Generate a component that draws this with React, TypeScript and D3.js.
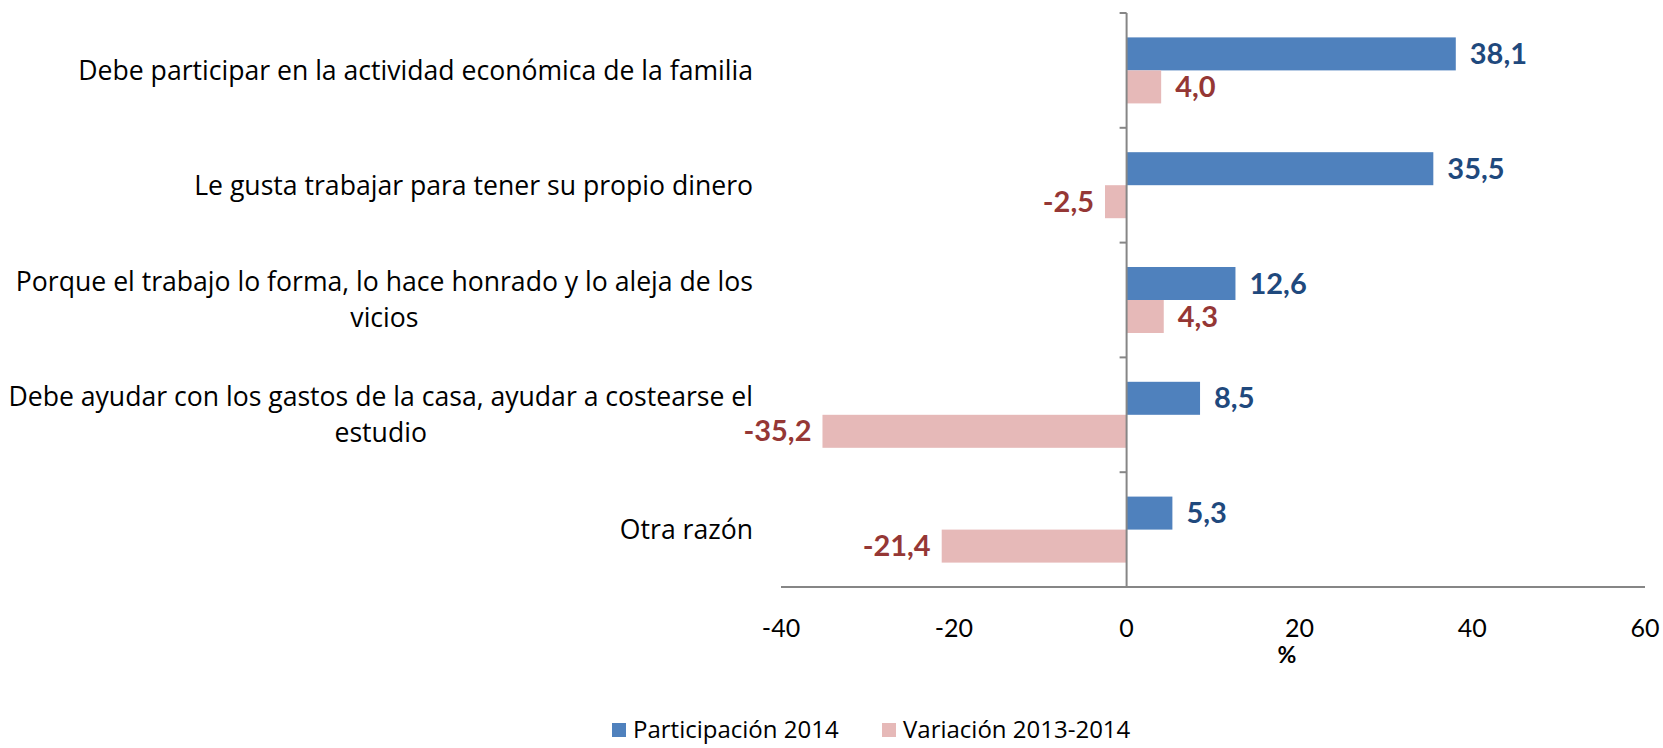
import { useEffect, useRef } from "react";
import { select, scaleLinear, scaleBand, formatLocale } from "d3";

// categories, one entry per wrapped line
const categories = [
    ["Debe participar en la actividad económica de la familia"],
    ["Le gusta trabajar para tener su propio dinero"],
    ["Porque el trabajo lo forma, lo hace honrado y lo aleja de los", "vicios"],
    ["Debe ayudar con los gastos de la casa, ayudar a costearse el", "estudio"],
    ["Otra razón"],
];

const seriesNames = ["Participación 2014", "Variación 2013-2014"];
const participacion = [38.1, 35.5, 12.6, 8.5, 5.3];
const variacion = [4.0, -2.5, 4.3, -35.2, -21.4];
const xTicks = [-40, -20, 0, 20, 40, 60];

const barColors = ["#4F81BD", "#E6B9B8"];
const labelColors = ["#1F497D", "#953735"];
const FONT = "Lato, 'Open Sans', sans-serif";
const TEXT_FONT = "'Open Sans', Lato, sans-serif";

// comma decimal, plain hyphen for negatives
const fmt = formatLocale({ decimal: ",", thousands: ".", grouping: [3], currency: ["", ""], minus: "-" }).format(".1f");

export default function App() {
    const svgRef = useRef<SVGSVGElement>(null);

    useEffect(() => {
        const width = 1663;
        const height = 748;
        const svg = select(svgRef.current);
        svg.selectAll("*").remove();

        const keys = categories.map((_, i) => String(i));
        const x = scaleLinear().domain([-40, 60]).range([781, 1645]);
        const y = scaleBand().domain(keys).range([13, 587]).paddingInner(0.425).paddingOuter(0.2125);
        const ySub = scaleBand().domain(["0", "1"]).range([0, y.bandwidth()]);

        svg.attr("width", width).attr("height", height);

        // bars + value labels
        const series = [participacion, variacion];
        series.forEach((values, s) => {
            const g = svg.append("g");
            values.forEach((v, i) => {
                const y0 = (y(String(i)) as number) + (ySub(String(s)) as number);
                const h = ySub.bandwidth();
                g.append("rect")
                    .attr("x", Math.min(x(0), x(v)))
                    .attr("y", y0)
                    .attr("width", Math.abs(x(v) - x(0)))
                    .attr("height", h)
                    .attr("fill", barColors[s]);
                g.append("text")
                    .attr("x", v >= 0 ? x(v) + 14 : x(v) - 11)
                    .attr("y", y0 + h / 2)
                    .attr("dy", "0.35em")
                    .attr("text-anchor", v >= 0 ? "start" : "end")
                    .attr("font-family", FONT)
                    .attr("font-weight", "bold")
                    .attr("font-size", 29)
                    .attr("fill", labelColors[s])
                    .text(fmt(v));
            });
        });

        // vertical axis at zero
        const axisColor = "#868686";
        svg.append("line")
            .attr("x1", x(0)).attr("x2", x(0))
            .attr("y1", 13).attr("y2", 587)
            .attr("stroke", axisColor).attr("stroke-width", 2);
        const bounds = [13, ...keys.map((k) => (y(k) as number) + y.bandwidth() + (y.step() * 0.425) / 2)];
        bounds.forEach((b) => {
            svg.append("line")
                .attr("x1", x(0) - 7).attr("x2", x(0))
                .attr("y1", b).attr("y2", b)
                .attr("stroke", axisColor).attr("stroke-width", 2);
        });

        // horizontal axis
        svg.append("line")
            .attr("x1", x(-40)).attr("x2", x(60))
            .attr("y1", 587).attr("y2", 587)
            .attr("stroke", axisColor).attr("stroke-width", 2);
        xTicks.forEach((t) => {
            svg.append("text")
                .attr("x", x(t))
                .attr("y", 628)
                .attr("dy", "0.35em")
                .attr("text-anchor", "middle")
                .attr("font-family", FONT)
                .attr("font-size", 25)
                .attr("fill", "#000")
                .text(fmt(t).replace(",0", ""));
        });
        svg.append("text")
            .attr("x", 1287).attr("y", 655).attr("dy", "0.35em")
            .attr("text-anchor", "middle")
            .attr("font-family", FONT).attr("font-weight", "bold").attr("font-size", 23)
            .text("%");

        // category labels (right edge at 753, wrapped lines centred on the block)
        const labelRight = 753;
        const lineH = 36;
        categories.forEach((lines, i) => {
            const cy = (y(String(i)) as number) + y.bandwidth() / 2;
            const g = svg.append("g");
            const texts = lines.map((ln, j) =>
                g.append("text")
                    .attr("y", cy + (j - (lines.length - 1) / 2) * lineH)
                    .attr("dy", "0.35em")
                    .attr("text-anchor", "middle")
                    .attr("font-family", TEXT_FONT)
                    .attr("font-size", 26.6)
                    .attr("fill", "#000")
                    .text(ln)
            );
            const maxW = Math.max(...texts.map((t) => (t.node() as SVGTextElement).getComputedTextLength()));
            texts.forEach((t) => t.attr("x", labelRight - maxW / 2));
        });

        // legend
        const legendX = [612, 882];
        const legendY = 730;
        seriesNames.forEach((name, s) => {
            svg.append("rect")
                .attr("x", legendX[s]).attr("y", legendY - 7)
                .attr("width", 14).attr("height", 14)
                .attr("fill", barColors[s]);
            svg.append("text")
                .attr("x", legendX[s] + 21).attr("y", legendY).attr("dy", "0.35em")
                .attr("font-family", TEXT_FONT).attr("font-size", 24)
                .text(name);
        });
    }, []);

    return (
        <div style={{ position: "absolute", left: 0, top: 0 }}>
            <svg ref={svgRef} style={{ display: "block", background: "#fff" }} />
        </div>
    );
}
